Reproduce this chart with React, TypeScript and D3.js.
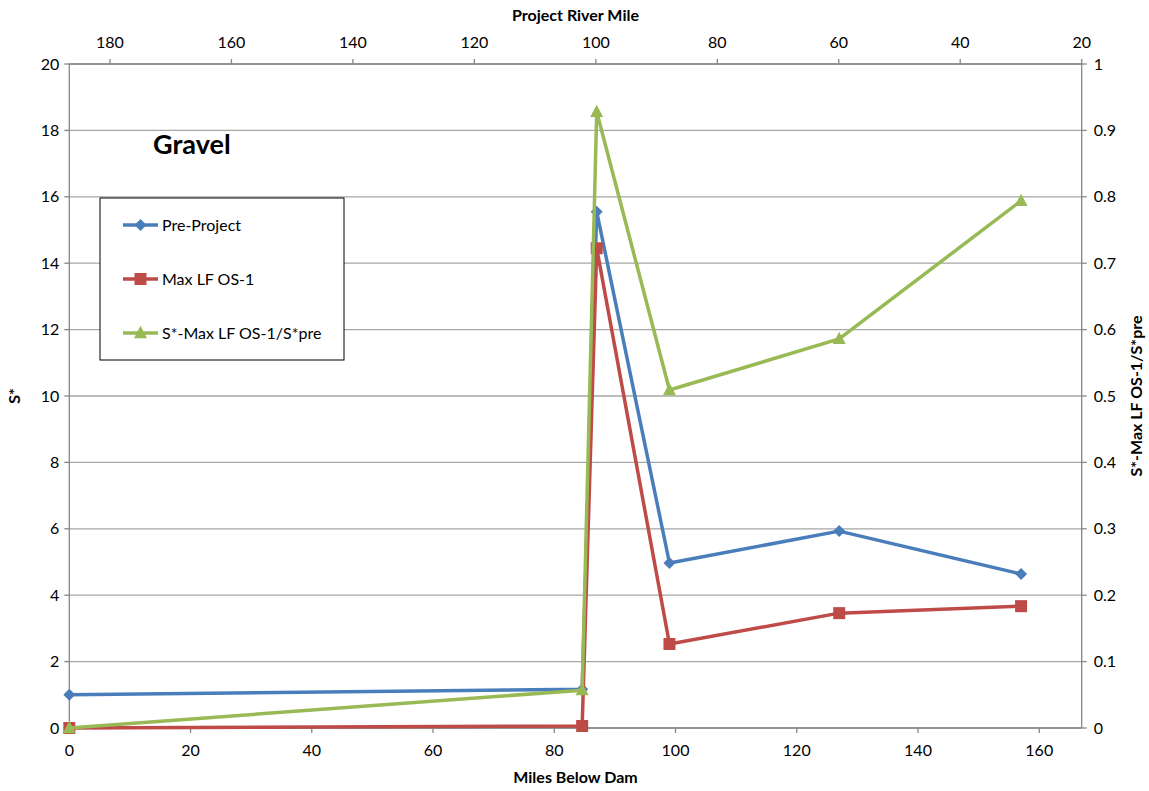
import React from "react";
import * as d3 from "d3";

const milesBelowDam = [0, 84.6, 87, 99, 127, 157];
const preProject = [1.0, 1.17, 15.55, 4.97, 5.93, 4.64];
const maxLF = [0, 0.06, 14.45, 2.53, 3.46, 3.67];
const ratioSeries = [0, 0.057, 0.928, 0.509, 0.586, 0.794];

const bottomTicks = [0, 20, 40, 60, 80, 100, 120, 140, 160];
const topTicks = [180, 160, 140, 120, 100, 80, 60, 40, 20];
const leftTicks = [0, 2, 4, 6, 8, 10, 12, 14, 16, 18, 20];
const rightTicks = [0, 0.1, 0.2, 0.3, 0.4, 0.5, 0.6, 0.7, 0.8, 0.9, 1];

const seriesNames = ["Pre-Project", "Max LF OS-1", "S*-Max LF OS-1/S*pre"];
const colors = ["#4a7ebb", "#be4b48", "#98b954"];

const W = 1149, H = 791;
const L = 69.3, R = 1081.7, T = 64, B = 728;
const FONT = "Lato, 'Open Sans', sans-serif";

export default function App() {
  const x = d3.scaleLinear().domain([0, 167]).range([L, R]);
  const xTop = d3.scaleLinear().domain([186.7, 20]).range([L, R]);
  const yL = d3.scaleLinear().domain([0, 20]).range([B, T]);
  const yR = d3.scaleLinear().domain([0, 1]).range([B, T]);

  const lineL = d3.line<number>().x((_, i) => x(milesBelowDam[i])).y((d) => yL(d));
  const lineR = d3.line<number>().x((_, i) => x(milesBelowDam[i])).y((d) => yR(d));

  const diamond = (cx: number, cy: number, s: number) =>
    `M${cx},${cy - s}L${cx + s},${cy}L${cx},${cy + s}L${cx - s},${cy}Z`;
  const square = (cx: number, cy: number, s: number) =>
    `M${cx - s},${cy - s}H${cx + s}V${cy + s}H${cx - s}Z`;
  const tri = (cx: number, cy: number, s: number) =>
    `M${cx},${cy - s * 1.1}L${cx + s},${cy + s * 0.8}L${cx - s},${cy + s * 0.8}Z`;

  const axisColor = "#868686";
  const gridColor = "#a6a6a6";

  const legendRows = [225, 279, 333];

  return (
    <svg width={W} height={H} style={{ position: "absolute", left: 0, top: 0, background: "#fff" }} fontFamily={FONT}>
      <rect x={0} y={0} width={W} height={H} fill="#fff" />
      {leftTicks.map((t) => (
        <line key={"g" + t} x1={L} x2={R} y1={yL(t)} y2={yL(t)} stroke={gridColor} strokeWidth={1.3} />
      ))}
      <line x1={L} x2={L} y1={T} y2={B} stroke={axisColor} strokeWidth={1.3} />
      <line x1={R} x2={R} y1={T} y2={B} stroke={axisColor} strokeWidth={1.3} />
      <line x1={L} x2={R} y1={B} y2={B} stroke={axisColor} strokeWidth={1.5} />
      <line x1={L} x2={R} y1={T} y2={T} stroke={axisColor} strokeWidth={1.5} />
      {leftTicks.map((t) => (
        <g key={"l" + t}>
          <line x1={L - 5} x2={L} y1={yL(t)} y2={yL(t)} stroke={axisColor} strokeWidth={1.3} />
          <text x={L - 10} y={yL(t)} dy="0.35em" textAnchor="end" fontSize={16} fill="#000">{t}</text>
        </g>
      ))}
      {rightTicks.map((t) => (
        <g key={"r" + t}>
          <line x1={R} x2={R + 5} y1={yR(t)} y2={yR(t)} stroke={axisColor} strokeWidth={1.3} />
          <text x={R + 12} y={yR(t)} dy="0.35em" textAnchor="start" fontSize={16} fill="#000">{t}</text>
        </g>
      ))}
      {bottomTicks.map((t) => (
        <g key={"b" + t}>
          <line x1={x(t)} x2={x(t)} y1={B} y2={B + 5} stroke={axisColor} strokeWidth={1.3} />
          <text x={x(t)} y={B + 28} textAnchor="middle" fontSize={16} fill="#000">{t}</text>
        </g>
      ))}
      {topTicks.map((t) => (
        <g key={"t" + t}>
          <line x1={xTop(t)} x2={xTop(t)} y1={T - 5} y2={T} stroke={axisColor} strokeWidth={1.3} />
          <text x={xTop(t)} y={T - 16} textAnchor="middle" fontSize={16} fill="#000">{t}</text>
        </g>
      ))}
      <text x={(L + R) / 2} y={783} textAnchor="middle" fontSize={16} fontWeight="bold">Miles Below Dam</text>
      <text x={(L + R) / 2} y={21} textAnchor="middle" fontSize={16} fontWeight="bold">Project River Mile</text>
      <text transform={`translate(20,${(T + B) / 2}) rotate(-90)`} textAnchor="middle" fontSize={16} fontWeight="bold">S*</text>
      <text transform={`translate(1142,${(T + B) / 2}) rotate(-90)`} textAnchor="middle" fontSize={16} fontWeight="bold">S*-Max LF OS-1/S*pre</text>

      <text x={153} y={154} fontSize={27} fontWeight="bold">Gravel</text>

      <path d={lineL(preProject) || ""} fill="none" stroke={colors[0]} strokeWidth={3.5} strokeLinejoin="round" />
      {preProject.map((v, i) => (
        <path key={"pm" + i} d={diamond(x(milesBelowDam[i]), yL(v), 6)} fill={colors[0]} />
      ))}
      <path d={lineL(maxLF) || ""} fill="none" stroke={colors[1]} strokeWidth={3.5} strokeLinejoin="round" />
      {maxLF.map((v, i) => (
        <path key={"mm" + i} d={square(x(milesBelowDam[i]), yL(v), 6)} fill={colors[1]} />
      ))}
      <path d={lineR(ratioSeries) || ""} fill="none" stroke={colors[2]} strokeWidth={3.5} strokeLinejoin="round" />
      {ratioSeries.map((v, i) => (
        <path key={"rm" + i} d={tri(x(milesBelowDam[i]), yR(v), 6.5)} fill={colors[2]} />
      ))}

      <rect x={100} y={198} width={244} height={162} fill="#fff" stroke="#000" strokeWidth={1} />
      {seriesNames.map((n, i) => {
        const yy = legendRows[i];
        const cx = 140.5;
        const marker = i === 0 ? diamond(cx, yy, 6) : i === 1 ? square(cx, yy, 6) : tri(cx, yy, 6.5);
        return (
          <g key={"lg" + i}>
            <line x1={123} x2={158} y1={yy} y2={yy} stroke={colors[i]} strokeWidth={3.5} />
            <path d={marker} fill={colors[i]} />
            <text x={162} y={yy} dy="0.35em" fontSize={16}>{n}</text>
          </g>
        );
      })}
    </svg>
  );
}
